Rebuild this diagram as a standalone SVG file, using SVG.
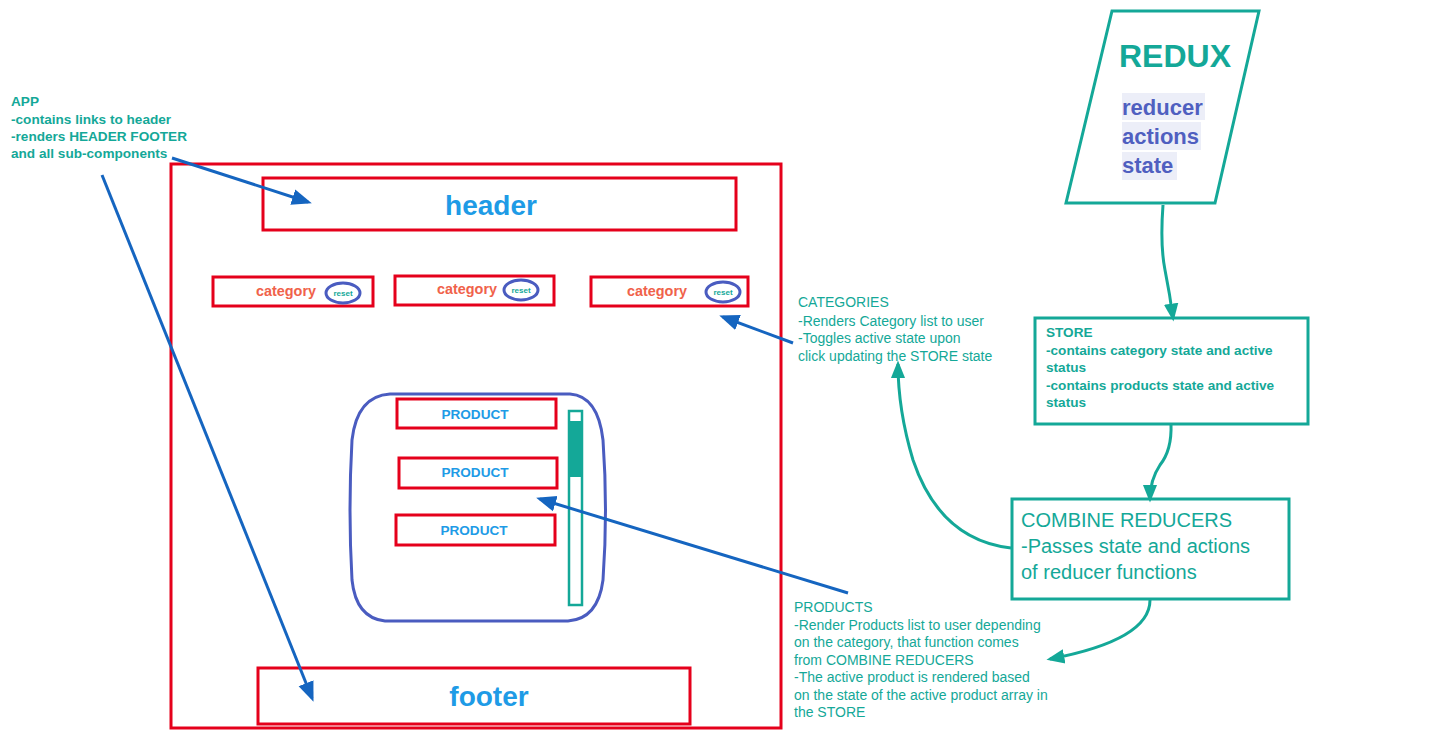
<svg xmlns="http://www.w3.org/2000/svg" width="1455" height="742" viewBox="0 0 1455 742">
<style>
.red{fill:none;stroke:#e5001b;stroke-width:3}
.teal{fill:none;stroke:#14a898;stroke-width:3}
.blu{fill:none;stroke:#1565c0;stroke-width:3}
.big{font-family:"Liberation Sans",Arial,sans-serif;font-weight:bold;fill:#1e9be6;text-anchor:middle}
.cat{font-family:"Liberation Sans",Arial,sans-serif;font-weight:bold;font-size:14.4px;fill:#f0624a;text-anchor:middle}
.rst{font-family:"Liberation Sans",Arial,sans-serif;font-weight:bold;font-size:8px;fill:#14a898;text-anchor:middle}
.ell{fill:none;stroke:#4a5cc0;stroke-width:3}
.prd{font-family:"Liberation Sans",Arial,sans-serif;font-weight:bold;font-size:13.6px;fill:#1e9be6;text-anchor:middle}
.note{font-family:"Liberation Sans",Arial,sans-serif;font-size:14px;fill:#14a898}
.noteb{font-family:"Liberation Sans",Arial,sans-serif;font-size:13.6px;font-weight:bold;fill:#14a898}
.comb{font-family:"Liberation Sans",Arial,sans-serif;font-size:20px;fill:#14a898}
.red2{font-family:"Liberation Sans",Arial,sans-serif;font-weight:bold;font-size:22px;fill:#4f5fc0}
</style>
<defs>
<marker id="abB" viewBox="0 0 10 10" refX="8" refY="5" markerWidth="20" markerHeight="20" orient="auto" markerUnits="userSpaceOnUse">
<path d="M0,1 L10,5 L0,9 z" fill="#1565c0"/>
</marker>
<marker id="at" viewBox="0 0 10 10" refX="8" refY="5" markerWidth="18" markerHeight="18" orient="auto" markerUnits="userSpaceOnUse">
<path d="M0,1 L10,5 L0,9 z" fill="#14a898"/>
</marker>
</defs>

<g id="app-frame">
<rect class="red" x="171" y="164" width="610" height="564"/>
</g>
<g id="header">
<rect class="red" x="263" y="178" width="473" height="52"/>
<text class="big" x="491" y="215" font-size="28">header</text>
</g>
<g id="category1">
<rect class="red" x="213" y="277" width="160" height="29"/>
<text class="cat" x="286" y="296">category</text>
<ellipse class="ell" cx="343" cy="293" rx="17" ry="10"/>
<text class="rst" x="343" y="296">reset</text>
</g>
<g id="category2">
<rect class="red" x="395" y="276" width="159" height="29"/>
<text class="cat" x="467" y="294">category</text>
<ellipse class="ell" cx="521" cy="290" rx="17" ry="10"/>
<text class="rst" x="521" y="293">reset</text>
</g>
<g id="category3">
<rect class="red" x="591" y="277" width="157" height="29"/>
<text class="cat" x="657" y="296">category</text>
<ellipse class="ell" cx="723" cy="292" rx="17" ry="10"/>
<text class="rst" x="723" y="295">reset</text>
</g>
<g id="products-list">
<path class="ell" d="M390,394 L570,394 Q598,396 603,440 Q608,510 603,580 Q598,619 568,621 L385,621 Q356,618 352,580 Q348,510 352,440 Q357,396 390,394 Z"/>
<rect x="569" y="411" width="13" height="194" fill="none" stroke="#14a898" stroke-width="2.5"/>
<rect x="570" y="421" width="11" height="56" fill="#14a898"/>
</g>
<g id="product1">
<rect class="red" x="397" y="399" width="159" height="29"/>
<text class="prd" x="475" y="419">PRODUCT</text>
</g>
<g id="product2">
<rect class="red" x="399" y="458" width="158" height="30"/>
<text class="prd" x="475" y="477">PRODUCT</text>
</g>
<g id="product3">
<rect class="red" x="396" y="515" width="159" height="30"/>
<text class="prd" x="474" y="535">PRODUCT</text>
</g>
<g id="footer">
<rect class="red" x="258" y="668" width="432" height="56"/>
<text class="big" x="489" y="706" font-size="28">footer</text>
</g>

<g id="app-note">
<text class="noteb" x="11" y="106">APP</text>
<text class="noteb" x="11" y="123.5">-contains links to header</text>
<text class="noteb" x="11" y="141">-renders HEADER FOOTER</text>
<text class="noteb" x="11" y="158">and all sub-components</text>
</g>
<g id="categories-note">
<text class="note" x="798" y="307">CATEGORIES</text>
<text class="note" x="798" y="325.5">-Renders Category list to user</text>
<text class="note" x="798" y="343">-Toggles active state upon</text>
<text class="note" x="798" y="361">click updating the STORE state</text>
</g>
<g id="products-note">
<text class="note" x="794" y="612">PRODUCTS</text>
<text class="note" x="794" y="629.5">-Render Products list to user depending</text>
<text class="note" x="794" y="647">on the category, that function comes</text>
<text class="note" x="794" y="664.5">from COMBINE REDUCERS</text>
<text class="note" x="794" y="682">-The active product is rendered based</text>
<text class="note" x="794" y="699.5">on the state of the active product array in</text>
<text class="note" x="794" y="717">the STORE</text>
</g>

<g id="redux">
<path class="teal" d="M1112,11 L1259,11 L1215,203 L1066,203 Z"/>
<text x="1175" y="67" font-family="Liberation Sans,Arial,sans-serif" font-weight="bold" font-size="32" fill="#14a898" text-anchor="middle">REDUX</text>
<rect x="1122" y="93" width="83" height="27" fill="#eceef8"/>
<rect x="1122" y="122" width="79" height="28" fill="#eceef8"/>
<rect x="1122" y="152" width="55" height="28" fill="#eceef8"/>
<text class="red2" x="1122" y="115">reducer</text>
<text class="red2" x="1122" y="144">actions</text>
<text class="red2" x="1122" y="173">state</text>
</g>
<g id="store">
<rect class="teal" x="1035" y="318" width="273" height="106"/>
<text class="noteb" x="1046" y="337">STORE</text>
<text class="noteb" x="1046" y="355">-contains category state and active</text>
<text class="noteb" x="1046" y="372">status</text>
<text class="noteb" x="1046" y="389.5">-contains products state and active</text>
<text class="noteb" x="1046" y="407">status</text>
</g>
<g id="combine-reducers">
<rect class="teal" x="1012" y="499" width="277" height="100"/>
<text class="comb" x="1021" y="527">COMBINE REDUCERS</text>
<text class="comb" x="1021" y="553">-Passes state and actions</text>
<text class="comb" x="1021" y="579">of reducer functions</text>
</g>

<g id="connectors">
<path class="blu" d="M172,158 L308,202" marker-end="url(#abB)"/>
<path class="blu" d="M102,175 L312,698" marker-end="url(#abB)"/>
<path class="blu" d="M848,593 L540,499" marker-end="url(#abB)"/>
<path class="blu" d="M793,343 L723,317" marker-end="url(#abB)"/>
<path class="teal" d="M1163,205 Q1160,245 1165,270 Q1170,295 1173,318" marker-end="url(#at)"/>
<path class="teal" d="M1171,424 Q1172,450 1160,465 Q1150,480 1150,499" marker-end="url(#at)"/>
<path class="teal" d="M1011,548 Q940,540 913,460 Q898,410 898,364" marker-end="url(#at)"/>
<path class="teal" d="M1150,600 Q1150,640 1050,659" marker-end="url(#at)"/>
</g>
</svg>
